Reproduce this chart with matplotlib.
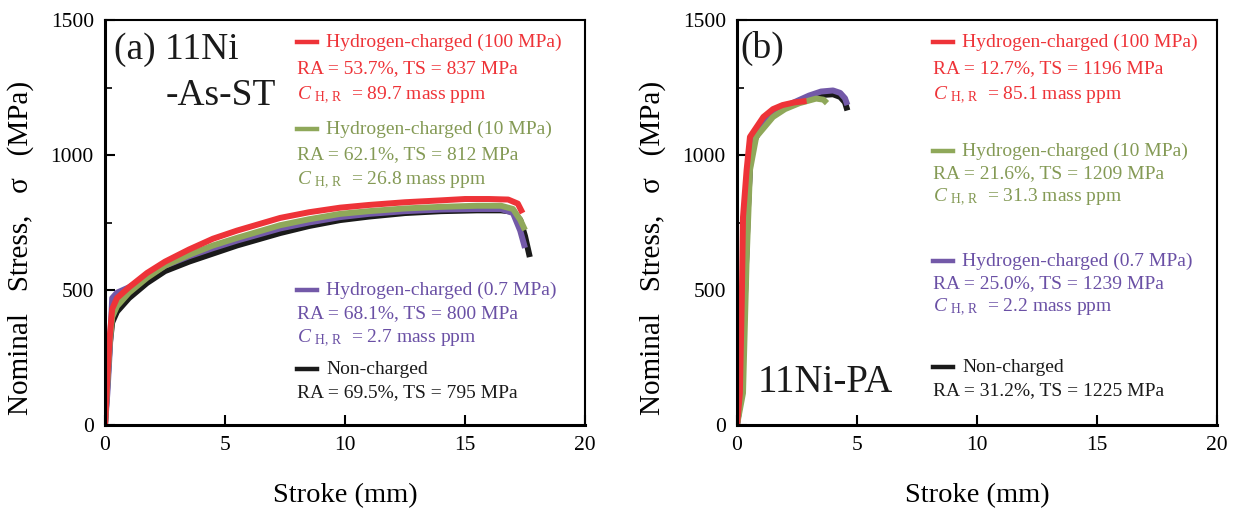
"""
Nominal stress - stroke curves for 11Ni steels (As-ST and PA)
"""
import matplotlib
matplotlib.use('Agg')
import matplotlib.pyplot as plt
from matplotlib.lines import Line2D
from matplotlib.ticker import MultipleLocator

plt.rcParams['font.family'] = ['Liberation Serif', 'DejaVu Serif']
plt.rcParams['mathtext.fontset'] = 'custom'
plt.rcParams['mathtext.rm'] = 'Liberation Serif'
plt.rcParams['mathtext.it'] = 'Liberation Serif:italic'

# ---- data: (a) 11Ni-As-ST ----
a_black_x = [0, 0.1, 0.2, 0.3, 0.5, 1.0, 1.75, 2.5, 3.5, 4.5, 5.5, 7.3, 8.5, 9.8, 11, 12.5, 14, 15.5, 16.5, 17.0, 17.3, 17.5, 17.7]
a_black_y = [0, 150, 300, 380, 420, 470, 526, 570, 605, 635, 665, 711, 737, 759, 772, 785, 792, 795, 795, 790, 760, 700, 622]
a_purple_x = [0, 0.1, 0.2, 0.3, 0.5, 1.0, 1.75, 2.5, 3.5, 4.5, 5.5, 7.3, 8.5, 9.8, 11, 12.5, 14, 15.5, 16.5, 17.0, 17.3, 17.5]
a_purple_y = [0, 120, 280, 470, 490, 510, 550, 590, 625, 655, 683, 728, 750, 770, 782, 792, 798, 800, 800, 785, 720, 656]
a_green_x = [0, 0.1, 0.2, 0.3, 0.5, 1.0, 1.75, 2.5, 3.5, 4.5, 5.5, 7.3, 8.5, 9.8, 11, 12.5, 14, 15.5, 16.5, 17.0, 17.3, 17.5]
a_green_y = [0, 160, 310, 400, 440, 490, 545, 590, 630, 665, 693, 740, 762, 782, 792, 802, 808, 812, 812, 800, 760, 722]
a_red_x = [0, 0.1, 0.2, 0.3, 0.5, 1.0, 1.75, 2.5, 3.5, 4.5, 5.5, 7.3, 8.5, 9.8, 11, 12.5, 14, 15, 16, 16.8, 17.2, 17.4]
a_red_y = [0, 180, 330, 430, 470, 510, 563, 605, 650, 690, 720, 767, 788, 805, 815, 825, 832, 837, 837, 835, 820, 785]

# ---- data: (b) 11Ni-PA ----
b_black_x = [0, 0.15, 0.3, 0.45, 0.55, 0.7, 1.0, 1.5, 2.0, 2.5, 3.0, 3.5, 4.0, 4.3, 4.5, 4.6]
b_black_y = [0, 100, 400, 790, 970, 1050, 1100, 1145, 1175, 1195, 1212, 1222, 1225, 1215, 1195, 1165]
b_purple_x = [0, 0.15, 0.3, 0.45, 0.55, 0.7, 1.0, 1.5, 2.0, 2.5, 3.0, 3.5, 4.0, 4.3, 4.5, 4.6]
b_purple_y = [0, 100, 400, 800, 980, 1060, 1110, 1150, 1180, 1200, 1220, 1235, 1239, 1230, 1210, 1185]
b_green_x = [0, 0.25, 0.4, 0.54, 0.8, 1.5, 2.0, 2.6, 3.3, 3.6, 3.75]
b_green_y = [0, 118, 611, 944, 1067, 1141, 1170, 1192, 1209, 1205, 1192]
b_red_x = [0, 0.12, 0.2, 0.25, 0.4, 0.54, 1.1, 1.5, 1.9, 2.4, 2.9]
b_red_y = [0, 118, 463, 770, 944, 1067, 1141, 1170, 1185, 1195, 1200]

RED = '#ee3338'
GREEN = '#8fa85a'
PURPLE = '#7359a8'
BLACK = '#1a1a1a'
GREEN_T = '#849a55'
PURPLE_T = '#6a50a5'

W, H = 1236, 515
fig = plt.figure(figsize=(W / 100, H / 100), dpi=100)


def px(x, y):
    return x / W, 1 - y / H


def make_axes(left):
    ax = fig.add_axes([left / W, 90 / H, 480 / W, 405 / H])
    ax.set_xlim(0, 20)
    ax.set_ylim(0, 1500)
    ax.xaxis.set_major_locator(MultipleLocator(5))
    ax.yaxis.set_major_locator(MultipleLocator(500))
    ax.yaxis.set_minor_locator(MultipleLocator(250))
    ax.tick_params(which='both', direction='in', labelsize=15.5, top=False, right=False, pad=8)
    ax.tick_params(which='major', length=7, width=1.5)
    ax.tick_params(which='minor', length=5, width=1.2)
    for s in ['left', 'bottom']:
        ax.spines[s].set_linewidth(2.2)
    for s in ['top', 'right']:
        ax.spines[s].set_linewidth(1.5)
    ax.set_xlabel('Stroke (mm)', fontsize=20.5, labelpad=20)
    ax.set_ylabel('Nominal   Stress,   σ   (MPa)', fontsize=21)
    ax.yaxis.set_label_coords(-0.148, 0.437)
    return ax


ax1 = make_axes(105)
ax2 = make_axes(737)

lw = 4.3
ax1.plot(a_black_x, a_black_y, color=BLACK, lw=lw, solid_capstyle='butt')
ax1.plot(a_purple_x, a_purple_y, color=PURPLE, lw=lw, solid_capstyle='butt')
ax1.plot(a_green_x, a_green_y, color=GREEN, lw=lw, solid_capstyle='butt')
ax1.plot(a_red_x, a_red_y, color=RED, lw=lw, solid_capstyle='butt')

ax2.plot(b_black_x, b_black_y, color=BLACK, lw=lw, solid_capstyle='butt')
ax2.plot(b_purple_x, b_purple_y, color=PURPLE, lw=lw, solid_capstyle='butt')
ax2.plot(b_green_x, b_green_y, color=GREEN, lw=lw, solid_capstyle='butt')
ax2.plot(b_red_x, b_red_y, color=RED, lw=lw, solid_capstyle='butt')


def chr_text(v):
    return r'$\mathit{C}\ _{\mathrm{H,\,R}}$' + '  = ' + v + ' mass ppm'


def block(x0, y0, color, tcolor, title, lines, dy=24.5):
    fig.add_artist(Line2D([px(x0, 0)[0], px(x0 + 20, 0)[0]], [px(0, y0)[1]] * 2,
                          color=color, lw=3.2, transform=fig.transFigure))
    fig.text(*px(x0 + 29, y0), title, color=tcolor, fontsize=14, va='center', ha='left')
    for i, t in enumerate(lines):
        fig.text(*px(x0, y0 + dy * (i + 1)), t, color=tcolor, fontsize=14, va='center', ha='left')


# panel (a) annotations
block(297, 42, RED, RED, 'Hydrogen-charged (100 MPa)',
      ['RA = 53.7%, TS = 837 MPa', chr_text('89.7')], dy=26.5)
block(297, 129, GREEN, GREEN_T, 'Hydrogen-charged (10 MPa)',
      ['RA = 62.1%, TS = 812 MPa', chr_text('26.8')], dy=25.5)
block(297, 290, PURPLE, PURPLE_T, 'Hydrogen-charged (0.7 MPa)',
      ['RA = 68.1%, TS = 800 MPa', chr_text('2.7')], dy=24)
block(297, 369, BLACK, BLACK, 'Non-charged',
      ['RA = 69.5%, TS = 795 MPa'], dy=24)
fig.text(*px(114, 50), '(a) 11Ni', fontsize=27, va='center', ha='left', color=BLACK)
fig.text(*px(166, 96), '-As-ST', fontsize=27, va='center', ha='left', color=BLACK)

# panel (b) annotations
block(933, 42, RED, RED, 'Hydrogen-charged (100 MPa)',
      ['RA = 12.7%, TS = 1196 MPa', chr_text('85.1')], dy=26.5)
block(933, 151, GREEN, GREEN_T, 'Hydrogen-charged (10 MPa)',
      ['RA = 21.6%, TS = 1209 MPa', chr_text('31.3')], dy=23)
block(933, 261, PURPLE, PURPLE_T, 'Hydrogen-charged (0.7 MPa)',
      ['RA = 25.0%, TS = 1239 MPa', chr_text('2.2')], dy=23)
block(933, 367, BLACK, BLACK, 'Non-charged',
      ['RA = 31.2%, TS = 1225 MPa'], dy=24)
fig.text(*px(740, 48), '(b)', fontsize=27, va='center', ha='left', color=BLACK)
fig.text(*px(758, 383), '11Ni-PA', fontsize=28, va='center', ha='left', color=BLACK)

fig.savefig('out.png', dpi=100)
